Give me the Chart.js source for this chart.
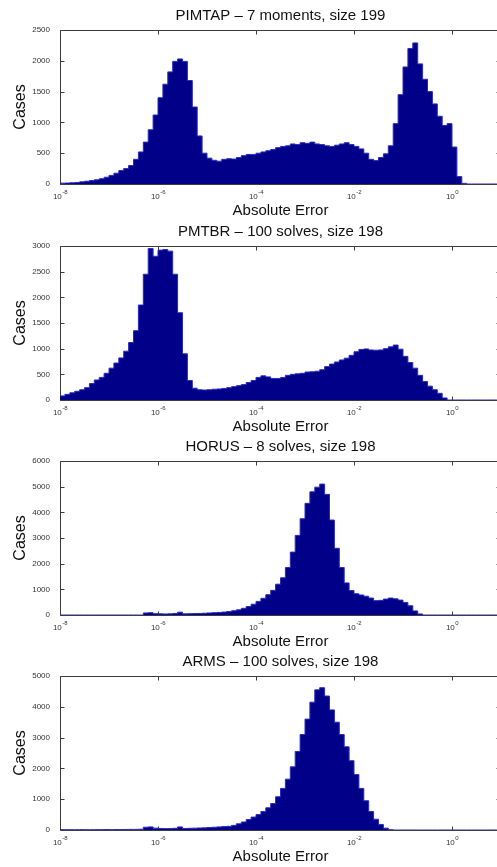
<!DOCTYPE html>
<html>
<head>
<meta charset="utf-8">
<title>Absolute error histograms</title>
<script src="https://cdn.jsdelivr.net/npm/chart.js@4.4.1/dist/chart.umd.min.js"></script>
<style>
  html, body { margin: 0; padding: 0; background: #fff; }
  body { width: 497px; height: 867px; overflow: hidden; position: relative; }
  canvas { position: absolute; left: 0; }
</style>
</head>
<body>
<canvas id="c0" width="510" height="230" style="top:0px"></canvas>
<canvas id="c1" width="510" height="230" style="top:216px"></canvas>
<canvas id="c2" width="510" height="230" style="top:431px"></canvas>
<canvas id="c3" width="510" height="230" style="top:646px"></canvas>
<script>
// bins are 0.1 decade wide, left edges from 1e-8 up to 1e1 (log10 units)
const binEdges = [];
for (let i = 0; i <= 90; i++) binEdges.push(Math.round((-8 + i * 0.1) * 10) / 10);

// counts per bin, one row per decade (1e-8..1e-7, 1e-7..1e-6, ...)
const pimtapCounts = [
  12, 14, 16, 20, 25, 35, 45, 55, 68, 85,
  110, 140, 175, 220, 250, 300, 400, 520, 680, 880,
  1120, 1400, 1620, 1820, 1990, 2030, 1990, 1680, 1250, 780,
  500, 420, 385, 370, 400, 410, 405, 430, 460, 480,
  480, 500, 520, 540, 560, 590, 610, 620, 650, 640,
  670, 660, 680, 650, 640, 620, 610, 630, 650, 670,
  640, 610, 570, 500, 400, 380, 430, 490, 620, 980,
  1450, 1900, 2200, 2290, 1950, 1700, 1500, 1300, 1100, 950,
  980, 600, 120, 10, 0, 0, 0, 0, 0, 0
];
const pmtbrCounts = [
  60, 80, 110, 140, 170, 200, 240, 320, 390, 440,
  520, 620, 720, 820, 950, 1120, 1350, 1850, 2450, 2950,
  2800, 2920, 2930, 2900, 2450, 1700, 900, 380, 230, 200,
  195, 200, 210, 215, 225, 240, 260, 280, 300, 340,
  380, 440, 470, 450, 420, 420, 440, 480, 500, 510,
  520, 545, 550, 560, 590, 650, 700, 740, 780, 815,
  870, 940, 985, 995, 975, 970, 975, 1000, 1035, 1070,
  990, 850, 730, 620, 480, 360, 270, 200, 130, 40,
  0, 0, 0, 0, 0, 0, 0, 0, 0, 0
];
const horusCounts = [
  0, 0, 0, 0, 0, 0, 0, 0, 0, 0,
  0, 0, 0, 0, 0, 0, 0, 0, 80, 90,
  50, 45, 40, 45, 60, 110, 45, 50, 55, 60,
  70, 80, 90, 100, 115, 135, 165, 200, 260, 330,
  420, 530, 650, 790, 960, 1200, 1450, 1850, 2450, 3100,
  3750, 4350, 4800, 4980, 5100, 4700, 3700, 2600, 1850, 1250,
  950, 830, 780, 730, 660, 560, 570, 620, 660, 630,
  580, 490, 360, 160, 40, 0, 0, 0, 0, 0,
  0, 0, 0, 0, 0, 0, 0, 0, 0, 0
];
const armsCounts = [
  15, 12, 10, 10, 10, 12, 10, 10, 12, 12,
  15, 12, 15, 15, 18, 20, 20, 25, 90, 100,
  60, 50, 45, 45, 55, 100, 50, 55, 60, 65,
  70, 80, 90, 100, 110, 120, 150, 200, 260, 340,
  420, 500, 600, 720, 860, 1080, 1350, 1650, 2050, 2550,
  3100, 3600, 4150, 4550, 4620, 4350, 3900, 3500, 3100, 2700,
  2250, 1800, 1350, 950, 600, 350, 180, 60, 10, 0,
  0, 0, 0, 0, 0, 0, 0, 0, 0, 0,
  0, 0, 0, 0, 0, 0, 0, 0, 0, 0
];

const panelTitles = [
  'PIMTAP – 7 moments, size 199',
  'PMTBR – 100 solves, size 198',
  'HORUS – 8 solves, size 198',
  'ARMS – 100 solves, size 198'
];
const panelCounts = [pimtapCounts, pmtbrCounts, horusCounts, armsCounts];
const yMaxes = [2500, 3000, 6000, 5000];
const ySteps = [500, 500, 1000, 1000];

const FONT = "'Liberation Sans', Arial, Helvetica, sans-serif";
const AXIS_COLOR = '#3c3c3c';

// MATLAB-style box with inward ticks, plus 10^n x labels
const matlabAxes = {
  id: 'matlabAxes',
  beforeDatasetsDraw(chart) {
    const { ctx, chartArea: a, scales: { x, y } } = chart;
    const L = Math.round(a.left) + 0.5, R = Math.round(a.right) - 0.5;
    const T = Math.round(a.top) + 0.5, B = Math.round(a.bottom) + 0.5;
    ctx.save();
    ctx.strokeStyle = AXIS_COLOR;
    ctx.lineWidth = 1;
    ctx.beginPath();
    ctx.moveTo(L, T); ctx.lineTo(R, T); ctx.lineTo(R, B); ctx.lineTo(L, B); ctx.closePath();
    x.ticks.forEach(t => {
      if (t.value % 2 !== 0) return;
      const px = Math.round(x.getPixelForValue(t.value)) + 0.5;
      ctx.moveTo(px, B); ctx.lineTo(px, B - 4);
      ctx.moveTo(px, T); ctx.lineTo(px, T + 4);
    });
    y.ticks.forEach(t => {
      const py = Math.round(y.getPixelForValue(t.value)) + 0.5;
      ctx.moveTo(L, py); ctx.lineTo(L + 4, py);
      ctx.moveTo(R, py); ctx.lineTo(R - 4, py);
    });
    ctx.stroke();
    ctx.restore();
  },
  afterDraw(chart) {
    const { ctx, chartArea: a, scales: { x } } = chart;
    ctx.save();
    ctx.fillStyle = '#333';
    ctx.textBaseline = 'alphabetic';
    ctx.textAlign = 'left';
    x.ticks.forEach(t => {
      if (t.value % 2 !== 0) return;
      const px = x.getPixelForValue(t.value);
      const exp = String(t.value);
      ctx.font = '8px ' + FONT;
      const wb = ctx.measureText('10').width;
      ctx.font = '6px ' + FONT;
      const we = ctx.measureText(exp).width;
      const x0 = px - (wb + we) / 2;
      ctx.font = '8px ' + FONT;
      ctx.fillText('10', x0, a.bottom + 15);
      ctx.font = '6px ' + FONT;
      ctx.fillText(exp, x0 + wb + 0.5, a.bottom + 10);
    });
    ctx.restore();
  }
};

panelCounts.forEach((counts, i) => {
  const points = counts.map((c, k) => ({ x: binEdges[k], y: c }));
  points.push({ x: binEdges[binEdges.length - 1], y: 0 });

  new Chart(document.getElementById('c' + i), {
    type: 'line',
    data: {
      datasets: [{
        data: points,
        stepped: 'after',
        fill: 'origin',
        backgroundColor: '#000088',
        borderColor: '#2a2ac0',
        borderWidth: 1,
        pointRadius: 0
      }]
    },
    plugins: [matlabAxes],
    options: {
      responsive: false,
      animation: false,
      devicePixelRatio: 1,
      layout: { padding: { left: 0, right: 9, top: 0, bottom: 0 } },
      plugins: {
        legend: { display: false },
        tooltip: { enabled: false },
        title: {
          display: true,
          fullSize: false,
          text: panelTitles[i],
          color: '#111',
          font: { family: FONT, size: 15, weight: 'normal', lineHeight: 1.2 },
          padding: { top: 7, bottom: 5 }
        }
      },
      scales: {
        x: {
          type: 'linear',
          min: -8,
          max: 1,
          ticks: { display: false, stepSize: 1 },
          grid: { display: false, drawTicks: false },
          border: { display: false },
          title: {
            display: true,
            text: 'Absolute Error',
            color: '#111',
            font: { family: FONT, size: 15, lineHeight: 1 },
            padding: { top: 0, bottom: 11.5 }
          },
          afterFit(s) { s.height = 46; }
        },
        y: {
          min: 0,
          max: yMaxes[i],
          ticks: {
            stepSize: ySteps[i],
            padding: 10,
            color: '#333',
            font: { family: FONT, size: 8 },
            callback: v => String(v)
          },
          grid: { display: false, drawTicks: false },
          border: { display: false },
          title: {
            display: true,
            text: 'Cases',
            color: '#111',
            font: { family: FONT, size: 16, lineHeight: 1.2 },
            padding: { top: 11.4, bottom: 0 }
          },
          afterFit(s) { s.width = 60; }
        }
      }
    }
  });
});
</script>
</body>
</html>
